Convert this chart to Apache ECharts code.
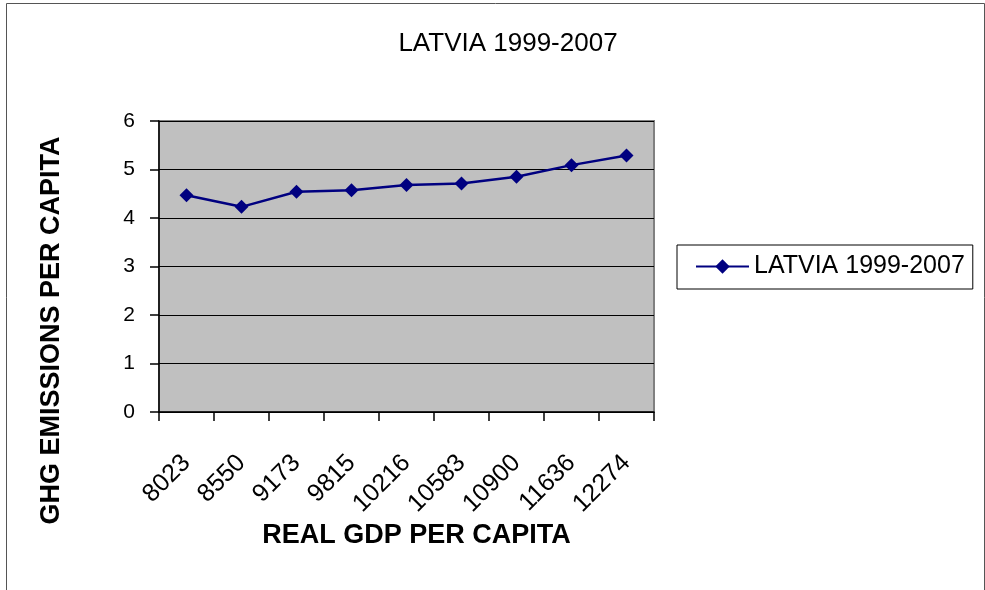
<!DOCTYPE html>
<html><head><meta charset="utf-8">
<script src="https://cdn.jsdelivr.net/npm/echarts@6/dist/echarts.min.js"></script>
<style>html,body{margin:0;padding:0;background:#fff}#c{width:985px;height:590px}</style>
</head><body><div id="c"></div>
<script>
const categories = ['8023','8550','9173','9815','10216','10583','10900','11636','12274'];
const values = [4.47, 4.23, 4.54, 4.57, 4.68, 4.71, 4.85, 5.09, 5.29];
const yTicks = [0, 1, 2, 3, 4, 5, 6];
const seriesName = 'LATVIA 1999-2007';
const titleText = 'LATVIA 1999-2007';
const xName = 'REAL GDP PER CAPITA';
const yName = 'GHG EMISSIONS PER CAPITA';

const chart = echarts.init(document.getElementById('c'), null, {renderer: 'canvas'});
const F = 'Liberation Sans, Arial, sans-serif';
chart.setOption({
  animation: false,
  backgroundColor: '#fff',
  title: { text: titleText, left: 503, top: 26, textAlign: 'center',
    textStyle: { fontFamily: F, fontSize: 26, fontWeight: 'normal', color: '#000' } },
  legend: { left: 677, top: 245, orient: 'vertical',
    padding: [9, 8, 10, 18], borderColor: '#000', borderWidth: 1,
    itemWidth: 53, itemHeight: 18, itemGap: 4,
    textStyle: { fontFamily: F, fontSize: 25, color: '#000' },
    data: [seriesName] },
  grid: { left: 159, right: 331, top: 121, bottom: 178, show: true,
    backgroundColor: '#C0C0C0', borderColor: '#808080', borderWidth: 2 },
  xAxis: { type: 'category', data: categories, boundaryGap: true,
    name: xName, nameLocation: 'middle', nameGap: 110,
    nameTextStyle: { fontFamily: F, fontSize: 27, fontWeight: 'bold', color: '#000',
      padding: [0, 0, 0, 20] },
    axisLine: { lineStyle: { color: '#000', width: 1.5 } },
    axisTick: { show: true, length: 9, lineStyle: { color: '#000', width: 1.5 } },
    axisLabel: { rotate: 45, fontFamily: F, fontSize: 25, color: '#000', margin: 47 } },
  yAxis: { type: 'value', min: 0, max: 6, interval: 1,
    name: yName, nameLocation: 'middle', nameGap: 94, nameRotate: 90,
    nameTextStyle: { fontFamily: F, fontSize: 27, fontWeight: 'bold', color: '#000',
      padding: [0, 128, 0, 0] },
    axisLine: { show: true, lineStyle: { color: '#000', width: 1.5 } },
    axisTick: { show: true, length: 9, lineStyle: { color: '#000', width: 1.5 } },
    axisLabel: { fontFamily: F, fontSize: 21, color: '#000', margin: 24,
      formatter: v => yTicks.includes(v) ? String(v) : '' },
    splitLine: { show: true, lineStyle: { color: '#000', width: 1 } } },
  series: [{ name: seriesName, type: 'line', data: values,
    symbol: 'diamond', symbolSize: 14,
    lineStyle: { color: '#000080', width: 2.5 },
    itemStyle: { color: '#000080' } }],
  graphic: [{ type: 'rect', left: 4, top: 1, silent: true,
    shape: { width: 978, height: 600 },
    style: { fill: 'none', stroke: '#555', lineWidth: 1 } }]
});
</script></body></html>
